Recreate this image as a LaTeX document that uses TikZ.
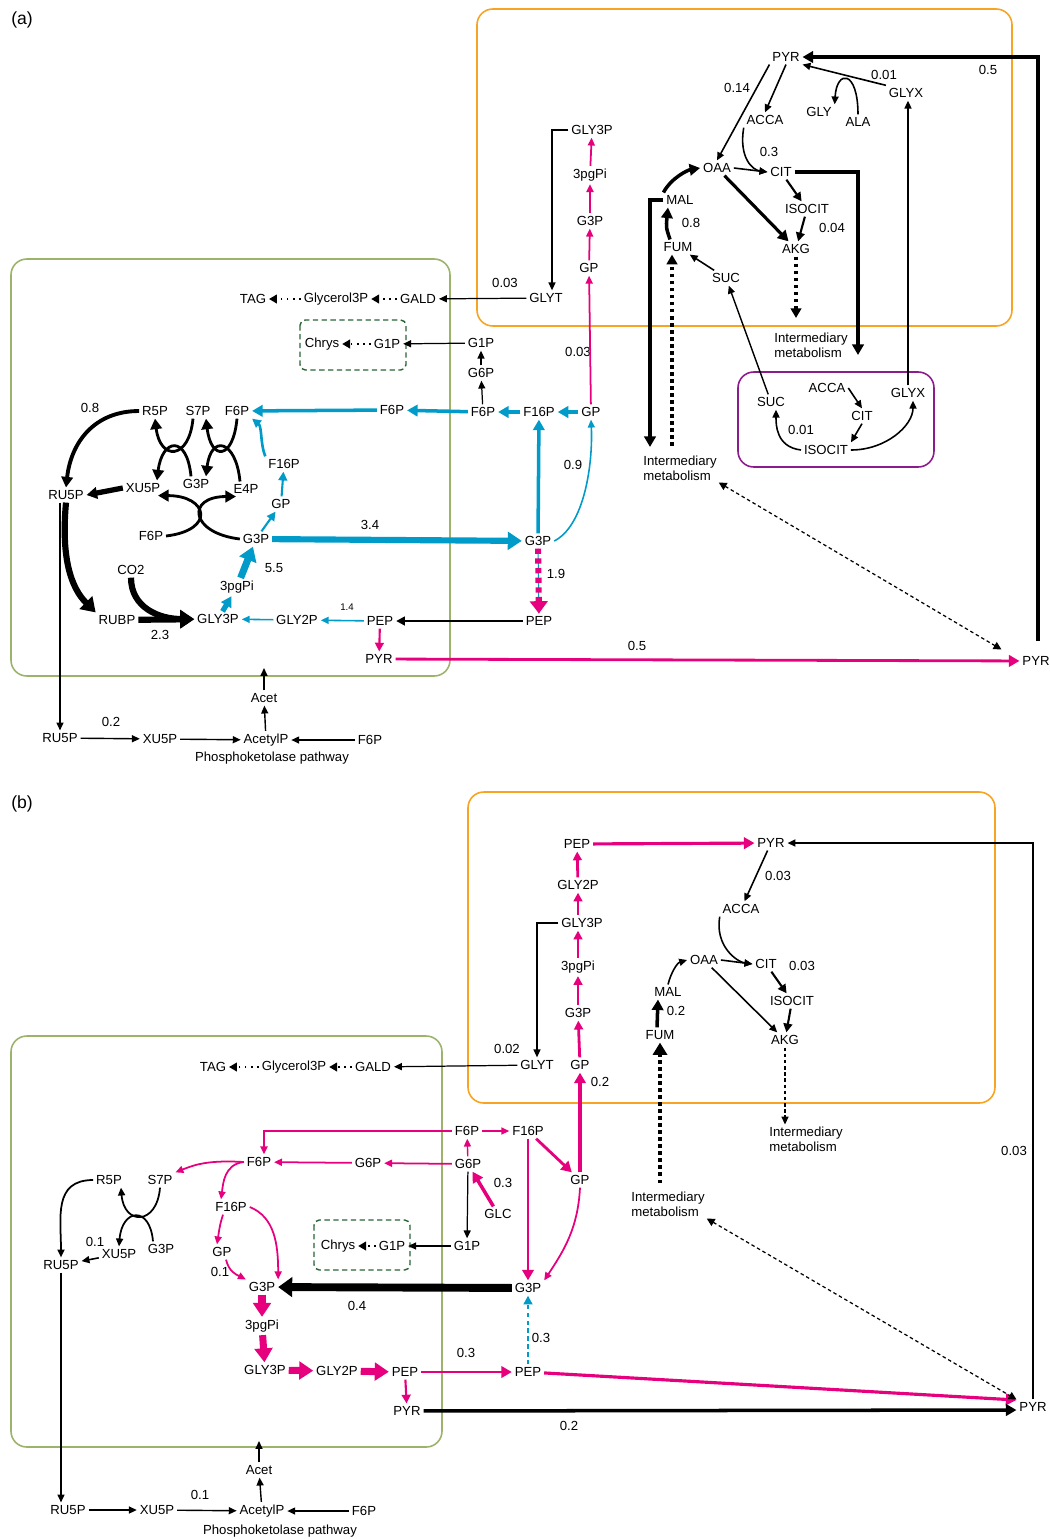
\documentclass[tikz,border=0pt]{standalone}
\usepackage{fontspec}
\setmainfont{Liberation Sans}
\usetikzlibrary{arrows.meta}

\definecolor{pk}{RGB}{230,0,126}
\definecolor{cy}{RGB}{0,155,200}
\definecolor{chlgreen}{RGB}{156,179,107}
\definecolor{mitorange}{RGB}{247,163,35}
\definecolor{glypurple}{RGB}{140,28,140}
\definecolor{chrysgreen}{RGB}{40,100,50}

\newcommand\labfont{\fontsize{7.5}{8.6}\selectfont}
\newcommand\tinyfont{\fontsize{5.5}{6.5}\selectfont}

\tikzset{
  met/.style={inner sep=1.5pt, font=\labfont},
  num/.style={inner sep=0pt, font=\labfont},
  imet/.style={inner sep=1pt, font=\labfont, align=left},
  thinflux/.style={line width=0.7pt, -{Triangle[length=4.5pt,width=4pt]}},
  medflux/.style={line width=1.2pt, -{Triangle[length=5pt,width=5pt]}},
  fatflux/.style={line width=2pt, -{Triangle[length=6pt,width=6.5pt]}},
  hugeflux/.style={line width=4pt, -{Triangle[length=8pt,width=10pt]}},
  dotflux/.style={line width=0.9pt, dash pattern=on 0.9pt off 2.6pt, -{Triangle[length=4.5pt,width=5pt]}},
  fatdots/.style={line width=2pt, dash pattern=on 2pt off 2pt, -{Triangle[length=5.5pt,width=6pt]}},
  linkdash/.style={line width=0.7pt, dash pattern=on 2pt off 1.6pt, {Triangle[length=4.5pt,width=4.5pt]}-{Triangle[length=4.5pt,width=4.5pt]}},
  compart/.style={rounded corners=9pt, line width=0.9pt},
  chrysbox/.style={chrysgreen, line width=0.8pt, dash pattern=on 3pt off 2pt, rounded corners=3pt}
}

\begin{document}
\begin{tikzpicture}[x=0.02cm, y=-0.02cm, every node/.style={met}]
\useasboundingbox (0,0) rectangle (1049,1539);

% ================= (a) =================
\node (alab) at (22,20) {\fontsize{10}{12}\selectfont (a)};
\draw[compart, chlgreen] (11,259) rectangle (450,676);
\draw[compart, mitorange] (477,9) rectangle (1012,326);
\draw[compart, glypurple] (738,372) rectangle (934,467);
\draw[chrysbox] (300,320) rectangle (406,370);

% chloroplast
\node (aTAG) at (253,299) {TAG};
\node (aGlyc) at (336,299) {Glycerol3P};
\node (aGALD) at (418,299) {GALD};
\node (aChrys) at (322,344) {Chrys};
\node (aG1Pc) at (387,344) {G1P};
\node (aF6Pm) at (392,410) {F6P};
\node (aF6Pl) at (237,411) {F6P};
\node (aS7P) at (198,411) {S7P};
\node (aR5P) at (155,411) {R5P};
\node (aRU5P) at (66,495) {RU5P};
\node (aXU5P) at (143,488) {XU5P};
\node (aG3Pt) at (196,484) {G3P};
\node (aE4P) at (246,489) {E4P};
\node (aF16P) at (284,464) {F16P};
\node (aGP) at (281,504) {GP};
\node (aF6Px) at (151,536) {F6P};
\node (aG3P) at (256,539) {G3P};
\node (aCO2) at (131,570) {CO2};
\node (a3pg) at (237,587) {3pgPi};
\node (aRUBP) at (117,620) {RUBP};
\node (aGLY3P) at (218,619) {GLY3P};
\node (aGLY2P) at (297,620) {GLY2P};
\node (aPEP) at (380,621) {PEP};
\node (aPYR) at (379,659) {PYR};

% cytosol
\node (aG1P) at (481,343) {G1P};
\node (aG6P) at (481,373) {G6P};
\node (aF6Pc) at (483,412) {F6P};
\node (aF16Pc) at (539,412) {F16P};
\node (aGPc) at (591,412) {GP};
\node (aG3Pc) at (538,541) {G3P};
\node (aPEPc) at (539,621) {PEP};
\node (aPYRc) at (1036,661) {PYR};
\node[imet] (aIMl) at (680,468) {Intermediary\\metabolism};

% mitochondrion
\node (aPYRm) at (786,57) {PYR};
\node (aGLYXm) at (906,93) {GLYX};
\node (aACCA) at (765,120) {ACCA};
\node (aGLY) at (819,112) {GLY};
\node (aALA) at (858,122) {ALA};
\node (aGLY3Pm) at (592,130) {GLY3P};
\node (aOAA) at (717,168) {OAA};
\node (aCIT) at (781,172) {CIT};
\node (a3pgm) at (590,175) {3pgPi};
\node (aMAL) at (680,200) {MAL};
\node (aISO) at (807,209) {ISOCIT};
\node (aG3Pm) at (590,221) {G3P};
\node (aFUM) at (678,247) {FUM};
\node (aAKG) at (796,249) {AKG};
\node (aGPm) at (589,268) {GP};
\node (aSUCm) at (726,278) {SUC};
\node (aGLYT) at (546,298) {GLYT};
\node[imet] (aIMr) at (811,345) {Intermediary\\metabolism};

% glyoxysome
\node (aSUCg) at (771,402) {SUC};
\node (aACCAg) at (827,388) {ACCA};
\node (aGLYXg) at (908,393) {GLYX};
\node (aCITg) at (862,416) {CIT};
\node (aISOg) at (826,450) {ISOCIT};

% phosphoketolase
\node (aAcet) at (264,698) {Acet};
\node (aRU5Pb) at (60,738) {RU5P};
\node (aXU5Pb) at (160,739) {XU5P};
\node (aAcP) at (266,740) {AcetylP};
\node (aF6Pb) at (370,740) {F6P};
\node (aPKpath) at (272,758) {Phosphoketolase pathway};

% flux values
\node[num] (an1) at (90,408) {0.8};
\node[num] (an2) at (370,525) {3.4};
\node[num] (an3) at (573,465) {0.9};
\node[num] (an4) at (274,568) {5.5};
\node[num] (an5) at (160,635) {2.3};
\node[num,font=\tinyfont] (an6) at (347,607) {1.4};
\node[num] (an7) at (556,574) {1.9};
\node[num] (an8) at (637,646) {0.5};
\node[num] (an9) at (111,722) {0.2};
\node[num] (an10) at (988,70) {0.5};
\node[num] (an11) at (884,75) {0.01};
\node[num] (an12) at (737,88) {0.14};
\node[num] (an13) at (769,152) {0.3};
\node[num] (an14) at (691,223) {0.8};
\node[num] (an15) at (832,228) {0.04};
\node[num] (an16) at (505,283) {0.03};
\node[num] (an17) at (578,352) {0.03};
\node[num] (an18) at (801,430) {0.01};

\coordinate (aCITend) at (858,355);
\coordinate (aMALend) at (650,447);
\coordinate (aIMfoot) at (672,446);
\coordinate (aAKGend) at (796,318);
\coordinate (aChlA) at (264,668);
\coordinate (aPYRfoot) at (1038,641);

% lipid / chrysolaminarin
\draw[thinflux] (aGLYT) -- (aGALD);
\draw[dotflux] (aGALD) -- (aGlyc);
\draw[dotflux] (aGlyc) -- (aTAG);
\draw[thinflux] (aG1P) -- (aG1Pc);
\draw[dotflux] (aG1Pc) -- (aChrys);
\draw[thinflux] (aG6P) -- (aG1P);
\draw[thinflux] (aF6Pc) -- (aG6P);
\draw[thinflux] (aGLY3Pm) -| ([xshift=0.12cm]aGLYT.north);

% glycolysis into mitochondrion
\draw[pk,thinflux,line width=1pt] (aGPm) -- (aG3Pm);
\draw[pk,thinflux,line width=1pt] (aG3Pm) -- (a3pgm);
\draw[pk,thinflux,line width=1pt] (a3pgm) -- (aGLY3Pm);
\draw[pk,thinflux,line width=1pt] (aGPc) -- (aGPm);

% gluconeogenesis (cyan)
\draw[cy,fatflux] (aGPc) -- (aF16Pc);
\draw[cy,fatflux] (aF16Pc) -- (aF6Pc);
\draw[cy,fatflux] (aF6Pc) -- (aF6Pm);
\draw[cy,fatflux] (aF6Pm) -- (aF6Pl);
\draw[cy,fatflux] (aG3Pc) -- (aF16Pc);
\draw[cy,thinflux,line width=0.9pt] (aG3Pc.east) .. controls +(30,-15) and +(2,45) .. (aGPc.south);
\draw[cy,hugeflux,line width=3.5pt] (aG3P) -- (aG3Pc);
\draw[cy,medflux] (aG3P) -- (aGP);
\draw[cy,medflux] (aGP) -- (aF16P);
\draw[cy,medflux,line width=1.5pt] (aF16P.north west) .. controls +(-5,-12) and +(10,8) .. (aF6Pl.south east);
\draw[cy,hugeflux] (a3pg) -- (aG3P);
\draw[cy,fatflux,line width=3pt] (aGLY3P) -- (a3pg);
\draw[cy,thinflux,line width=0.9pt] (aGLY2P) -- (aGLY3P);
\draw[cy,thinflux,line width=0.9pt] (aPEP) -- (aGLY2P);
\draw[medflux,line width=1.5pt] (aPEPc) -- (aPEP);
\draw[cy,line width=0.6pt] (aG3Pc) -- (aPEPc);
\draw[pk,line width=3.5pt,dash pattern=on 3pt off 2.5pt,-{Triangle[length=7pt,width=10pt]}] (aG3Pc) -- (aPEPc);
\draw[pk,medflux] (aPEP) -- (aPYR);
\draw[pk,fatflux,line width=1.6pt] (aPYR) -- (aPYRc);
\draw[fatflux,line width=2.6pt] (aPYRfoot) |- (aPYRm.east);

% Calvin cycle
\draw[fatflux,line width=2.2pt] (aR5P.west) .. controls +(-45,0) and +(5,-45) .. (aRU5P.north);
\draw[fatflux,line width=3pt] (aXU5P.west) -- (aRU5P.east);
\draw[fatflux,line width=1.6pt] ([xshift=-0.1cm]aS7P.south) .. controls +(-4,42) and +(5,42) .. (aR5P.south);
\draw[fatflux,line width=1.6pt] ([xshift=-0.1cm]aG3Pt.north) .. controls +(-4,-42) and +(5,-42) .. ([xshift=0.28cm]aXU5P.north);
\draw[fatflux,line width=1.6pt] (aF6Pl.south) .. controls +(-4,42) and +(5,42) .. ([xshift=0.16cm]aS7P.south);
\draw[fatflux,line width=1.6pt] ([xshift=-0.12cm]aE4P.north) .. controls +(-4,-42) and +(5,-42) .. ([xshift=0.2cm]aG3Pt.north);
\draw[fatflux,line width=1.6pt] (aF6Px.east) .. controls +(50,-6) and +(50,0) .. ([xshift=0.3cm]aXU5P.south);
\draw[fatflux,line width=1.6pt] (aG3P.west) .. controls +(-50,-6) and +(-50,0) .. ([xshift=-0.2cm]aE4P.south);
\draw[hugeflux,line width=3.5pt] (aRU5P.south) .. controls +(-5,55) and +(-25,-25) .. (aRUBP.north west);
\draw[hugeflux,line width=3.5pt] (aRUBP) -- (aGLY3P);
\draw[hugeflux,line width=3.5pt] (aCO2.south) .. controls +(0,30) and +(-35,0) .. (aGLY3P.west);

% mitochondrion
\draw[thinflux,line width=0.9pt] (aGLYXm.north west) -- (aPYRm.south east);
\draw[thinflux,line width=0.9pt] (aALA.north) .. controls +(0,-45) and +(2,-35) .. (aGLY.north east);
\draw[thinflux,line width=0.9pt] (aPYRm.south west) -- (aOAA.north);
\draw[thinflux,line width=0.9pt] (aPYRm.south) -- (aACCA.north);
\draw[thinflux,line width=0.9pt] (aACCA.south west) .. controls +(-5,30) and +(-15,-2) .. (aCIT.west);
\draw[thinflux,line width=0.9pt] (aOAA.east) -- (aCIT.west);
\draw[fatflux,line width=1.8pt] (aOAA) -- (aAKG);
\draw[medflux] (aCIT) -- (aISO);
\draw[medflux] (aISO) -- (aAKG);
\draw[fatdots] (aAKG.south) -- (aAKGend);
\draw[fatflux] (aCIT.east) -| (aCITend);
\draw[fatflux] (aMAL.north west) .. controls +(8,-15) and +(-12,2) .. (aOAA.west);
\draw[fatflux] ([xshift=-0.16cm]aFUM.north) .. controls +(-4,-12) .. ([xshift=-0.24cm]aMAL.south);
\draw[thinflux,line width=0.9pt] (aSUCm) -- (aFUM);
\draw[fatflux] (aMAL.west) -| (aMALend);
\draw[fatdots] (aIMfoot) -- (aIMfoot |- aFUM.south);
\draw[thinflux,line width=0.8pt] (aSUCg) -- (aSUCm);
\draw[thinflux,line width=0.8pt] (aGLYXg.north) -- (aGLYXg.north |- aGLYXm.south);

% glyoxylate shunt
\draw[thinflux,line width=0.9pt] (aACCAg.east) -- (aCITg.north);
\draw[thinflux,line width=0.9pt] (aCITg.south) -- (aISOg.north east);
\draw[thinflux,line width=0.9pt] (aISOg.west) .. controls +(-25,-3) and +(0,15) .. ([xshift=0.1cm]aSUCg.south);
\draw[thinflux,line width=0.9pt] (aISOg.east) .. controls +(35,0) and +(0,25) .. ([xshift=0.1cm]aGLYXg.south);
\draw[linkdash] (aIMl.south east) -- ([shift={(-18,-4)}]aPYRc.north west);

% phosphoketolase pathway
\draw[thinflux,line width=0.8pt] (aRU5P.south -| aRU5Pb) -- (aRU5Pb);
\draw[thinflux,line width=0.8pt] (aRU5Pb) -- (aXU5Pb);
\draw[thinflux,line width=0.8pt] (aXU5Pb) -- (aAcP);
\draw[thinflux,line width=0.8pt] (aF6Pb) -- (aAcP);
\draw[thinflux,line width=0.8pt] (aAcP) -- (aAcet);
\draw[thinflux,line width=0.8pt] (aAcet) -- (aChlA);

% ================= (b) =================
\node (blab) at (22,804) {\fontsize{10}{12}\selectfont (b)};
\draw[compart, chlgreen] (11,1036) rectangle (442,1447);
\draw[compart, mitorange] (468,792) rectangle (995,1103);
\draw[chrysbox] (314,1220) rectangle (410,1270);

% chloroplast
\node (bTAG) at (213,1067) {TAG};
\node (bGlyc) at (294,1067) {Glycerol3P};
\node (bGALD) at (373,1067) {GALD};
\node (bF6P) at (259,1162) {F6P};
\node (bG6Pm) at (368,1163) {G6P};
\node (bR5P) at (109,1180) {R5P};
\node (bS7P) at (160,1180) {S7P};
\node (bF16P) at (231,1207) {F16P};
\node (bXU5P) at (119,1254) {XU5P};
\node (bG3Ps) at (161,1249) {G3P};
\node (bRU5P) at (61,1265) {RU5P};
\node (bGP) at (222,1252) {GP};
\node (bChrys) at (338,1246) {Chrys};
\node (bG1Pc) at (392,1246) {G1P};
\node (bG3P) at (262,1287) {G3P};
\node (b3pg) at (262,1326) {3pgPi};
\node (bGLY3P) at (265,1370) {GLY3P};
\node (bGLY2P) at (337,1371) {GLY2P};
\node (bPEP) at (405,1372) {PEP};
\node (bPYR) at (407,1411) {PYR};

% cytosol
\node (bF6Pc) at (467,1131) {F6P};
\node (bF16Pc) at (528,1131) {F16P};
\node (bG6P) at (468,1164) {G6P};
\node (bGLC) at (498,1214) {GLC};
\node (bGPc) at (580,1180) {GP};
\node (bG1P) at (467,1246) {G1P};
\node (bG3Pc) at (528,1288) {G3P};
\node (bPEPc) at (528,1372) {PEP};
\node (bPYRc) at (1033,1407) {PYR};
\node[imet] (bIMl) at (668,1204) {Intermediary\\metabolism};
\node[imet] (bIMr) at (806,1139) {Intermediary\\metabolism};

% mitochondrion
\node (bPEPm) at (577,844) {PEP};
\node (bGLY2Pm) at (578,885) {GLY2P};
\node (bGLY3Pm) at (582,923) {GLY3P};
\node (b3pgm) at (578,967) {3pgPi};
\node (bG3Pm) at (578,1013) {G3P};
\node (bGPm) at (580,1065) {GP};
\node (bGLYT) at (537,1065) {GLYT};
\node (bPYRm) at (771,843) {PYR};
\node (bACCA) at (741,909) {ACCA};
\node (bOAA) at (704,960) {OAA};
\node (bCIT) at (766,964) {CIT};
\node (bISO) at (792,1001) {ISOCIT};
\node (bAKG) at (785,1040) {AKG};
\node (bMAL) at (668,992) {MAL};
\node (bFUM) at (660,1035) {FUM};

% phosphoketolase
\node (bAcet) at (259,1470) {Acet};
\node (bRU5Pb) at (68,1510) {RU5P};
\node (bXU5Pb) at (157,1510) {XU5P};
\node (bAcP) at (262,1511) {AcetylP};
\node (bF6Pb) at (364,1511) {F6P};
\node (bPKpath) at (280,1531) {Phosphoketolase pathway};

% flux values
\node[num] (bn1) at (507,1049) {0.02};
\node[num] (bn2) at (600,1082) {0.2};
\node[num] (bn3) at (778,876) {0.03};
\node[num] (bn4) at (802,966) {0.03};
\node[num] (bn5) at (676,1011) {0.2};
\node[num] (bn6) at (503,1183) {0.3};
\node[num] (bn7) at (95,1242) {0.1};
\node[num] (bn8) at (220,1272) {0.1};
\node[num] (bn9) at (357,1306) {0.4};
\node[num] (bn10) at (541,1338) {0.3};
\node[num] (bn11) at (466,1353) {0.3};
\node[num] (bn12) at (569,1426) {0.2};
\node[num] (bn13) at (1014,1151) {0.03};
\node[num] (bn14) at (200,1495) {0.1};

\coordinate (bIMfoot) at (660,1183);
\coordinate (bChlA) at (259,1441);

% lipid / chrysolaminarin
\draw[thinflux] (bGLYT) -- (bGALD);
\draw[dotflux] (bGALD) -- (bGlyc);
\draw[dotflux] (bGlyc) -- (bTAG);
\draw[thinflux] (bG1P) -- (bG1Pc);
\draw[dotflux] (bG1Pc) -- (bChrys);
\draw[thinflux] (bG6P) -- (bG1P);
\draw[thinflux] (bGLY3Pm) -| (bGLYT);

% glycolysis (pink)
\draw[pk,thinflux,line width=0.8pt] (bG6P) -- (bF6Pc);
\draw[pk,thinflux,line width=0.8pt] (bF6Pc) -- (bF16Pc);
\draw[pk,fatflux] (bGLC) -- (bG6P);
\draw[pk,thinflux,line width=1pt] (bF6Pc.west) -| ([xshift=0.1cm]bF6P.north);
\draw[pk,thinflux,line width=1pt] (bG6P) -- (bG6Pm);
\draw[pk,thinflux,line width=1pt] (bG6Pm) -- (bF6P);
\draw[pk,thinflux,line width=1pt] (bF6P.west) .. controls +(-35,-2) and +(20,-8) .. (bS7P.north east);
\draw[pk,thinflux,line width=1pt] (bF6P.west) .. controls +(-20,2) and +(2,-15) .. ([xshift=-0.2cm]bF16P.north);
\draw[pk,thinflux,line width=1pt] ([xshift=-0.16cm]bF16P.south) .. controls +(-3,10) .. ([xshift=-0.1cm]bGP.north);
\draw[pk,thinflux,line width=1pt] ([xshift=0.08cm]bGP.south) .. controls +(3,12) and +(-10,-5) .. (bG3P.north west);
\draw[pk,thinflux,line width=1pt] (bF16P.east) .. controls +(25,10) and +(0,-35) .. (bG3P.north east);
\draw[pk,hugeflux] (bG3P) -- (b3pg);
\draw[pk,hugeflux] (b3pg) -- (bGLY3P);
\draw[pk,hugeflux] (bGLY3P) -- (bGLY2P);
\draw[pk,hugeflux] (bGLY2P) -- (bPEP);
\draw[pk,medflux] (bPEP) -- (bPYR);
\draw[pk,fatflux,line width=1.6pt] (bPEP) -- (bPEPc);
\draw[pk,fatflux,line width=1.8pt] (bPEPc) -- ([yshift=0.14cm]bPYRc.west);
\draw[fatflux,line width=2pt] (bPYR) -- ([yshift=-0.06cm]bPYRc.west);
\draw[hugeflux,line width=4.5pt,-{Triangle[length=8pt,width=11pt]}] (bG3Pc) -- (bG3P);
\draw[cy,line width=1.2pt,dash pattern=on 2.5pt off 2pt,-{Triangle[length=5pt,width=5pt]}] (bPEPc) -- (bG3Pc);
\draw[pk,fatflux,line width=1.6pt] (bF16Pc) -- (bG3Pc);
\draw[pk,fatflux,line width=1.6pt] (bF16Pc) -- (bGPc);
\draw[pk,thinflux,line width=1pt] (bGPc.south) .. controls +(-2,40) and +(20,-30) .. (bG3Pc.north east);
\draw[pk,fatflux,line width=1.8pt] (bGPc) -- (bGPm);
\draw[pk,medflux,line width=1.6pt] (bGPm) -- (bG3Pm);
\draw[pk,medflux,line width=1.6pt] (bG3Pm) -- (b3pgm);
\draw[pk,medflux,line width=1.6pt] (b3pgm.north) -- (b3pgm.north |- bGLY3Pm.south);
\draw[pk,medflux,line width=1.6pt] (bGLY3Pm.north -| bGLY2Pm) -- (bGLY2Pm.south);
\draw[pk,medflux,line width=1.6pt] (bGLY2Pm) -- (bPEPm);
\draw[pk,fatflux,line width=1.8pt] (bPEPm) -- (bPYRm);

% mitochondrion
\draw[thinflux,line width=1pt] (bPYRc.north) |- (bPYRm.east);
\draw[thinflux,line width=0.9pt] (bPYRm) -- (bACCA);
\draw[thinflux,line width=0.9pt] (bACCA.south west) .. controls +(-5,30) and +(-15,-2) .. (bCIT.west);
\draw[thinflux,line width=0.9pt] (bOAA.east) -- (bCIT.west);
\draw[thinflux,line width=0.9pt] (bOAA) -- (bAKG);
\draw[medflux] (bCIT) -- (bISO);
\draw[medflux] (bISO) -- (bAKG);
\draw[thinflux,line width=0.8pt,dash pattern=on 2pt off 1.5pt] (bAKG.south) -- (bAKG.south |- bIMr.north);
\draw[thinflux,line width=0.9pt] (bMAL.north) .. controls +(3,-12) and +(-10,3) .. (bOAA.west);
\draw[fatflux] ([xshift=-0.06cm]bFUM.north) -- ([xshift=-0.2cm]bMAL.south);
\draw[fatdots,-{Triangle[length=7pt,width=8pt]}] (bIMfoot) -- (bIMfoot |- bFUM.south);
\draw[linkdash] (bIMl.south east) -- (bPYRc.north west);

% pentose phosphate
\draw[thinflux,line width=1pt] (bS7P.south) .. controls +(-3,38) and +(3,38) .. ([xshift=0.24cm]bR5P.south);
\draw[thinflux,line width=1pt] ([xshift=-0.16cm]bG3Ps.north) .. controls +(-3,-36) and +(3,-38) .. (bXU5P.north);
\draw[thinflux,line width=1pt] (bR5P.west) .. controls +(-40,0) and +(0,-40) .. (bRU5P.north);
\draw[thinflux,line width=0.9pt] (bXU5P) -- (bRU5P);

% phosphoketolase pathway
\draw[thinflux,line width=0.8pt] (bRU5P.south) -- (bRU5P.south |- bRU5Pb.north);
\draw[thinflux,line width=0.8pt] (bRU5Pb) -- (bXU5Pb);
\draw[thinflux,line width=0.8pt] (bXU5Pb) -- (bAcP);
\draw[thinflux,line width=0.8pt] (bF6Pb) -- (bAcP);
\draw[thinflux,line width=0.8pt] (bAcP) -- (bAcet);
\draw[thinflux,line width=0.8pt] (bAcet) -- (bChlA);
\end{tikzpicture}
\end{document}
